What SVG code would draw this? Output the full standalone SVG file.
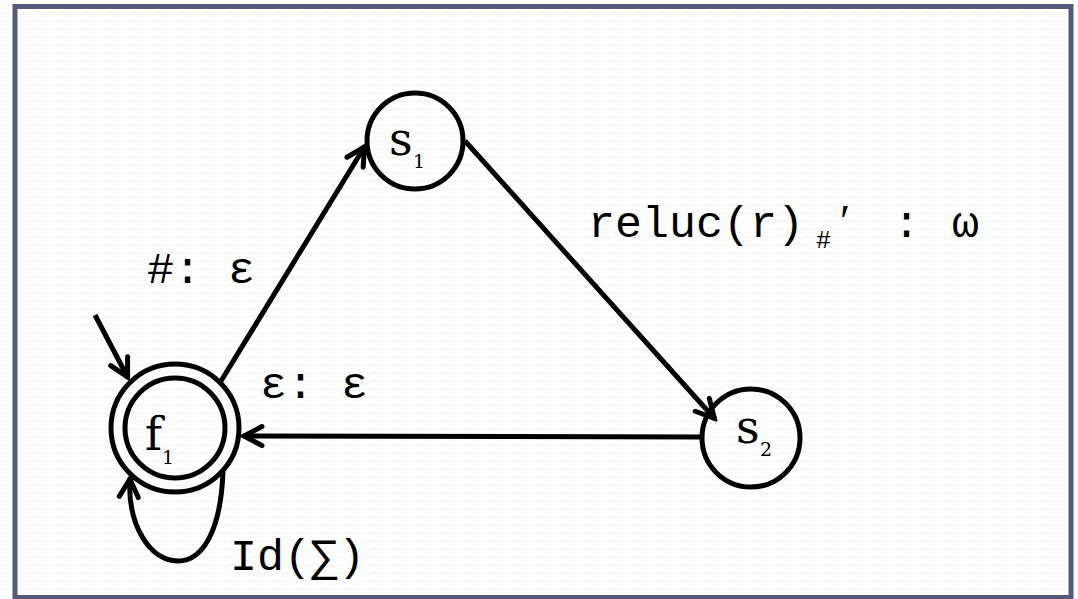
<svg xmlns="http://www.w3.org/2000/svg" width="1078" height="599" viewBox="0 0 1078 599">
  <defs>
    <pattern id="bg" width="12" height="8" patternUnits="userSpaceOnUse">
      <rect width="12" height="8" fill="#ffffff"/>
      <path d="M0,5 Q3,2 6,5 T12,5" fill="none" stroke="#f1f1f1" stroke-width="1"/>
    </pattern>
    <marker id="arr" markerUnits="userSpaceOnUse" viewBox="-24 -13 28 26" markerWidth="28" markerHeight="26" refX="1" refY="0" orient="auto">
      <path d="M-18,-9.5 L0,0 L-18,9.5" fill="none" stroke="#000" stroke-width="5" stroke-linecap="round" stroke-linejoin="miter"/>
    </marker>
    <style>
      .node { fill: none; stroke: #000; stroke-width: 5; }
      .edge { fill: none; stroke: #000; stroke-width: 5; marker-end: url(#arr); }
      .mono { font-family: "Liberation Mono", "DejaVu Sans Mono", monospace; font-size: 45px; fill: #000; }
      .lbl { font-family: "DejaVu Serif", "Liberation Serif", serif; font-size: 46px; fill: #000; }
      .sub { font-family: "DejaVu Serif", "Liberation Serif", serif; font-size: 19px; fill: #000; }
    </style>
  </defs>
  <rect x="0" y="0" width="1078" height="599" fill="url(#bg)"/>
  <rect x="15" y="6.5" width="1056" height="591" fill="none" stroke="#535a7c" stroke-width="5"/>

  <g id="connectors">
    <line class="edge" x1="221" y1="381" x2="365" y2="146"/>
    <line class="edge" x1="465" y1="141" x2="715" y2="419"/>
    <line class="edge" x1="702" y1="437" x2="243" y2="436"/>
    <line class="edge" x1="95" y1="315" x2="128" y2="378"/>
    <path class="edge" d="M223,471 C221,530 203,561 178,561 C150,561 127,525 130,478"/>
  </g>

  <g id="node-s1">
    <circle class="node" cx="415" cy="141" r="48"/>
    <text class="lbl" x="389" y="155">s</text>
    <text class="sub" x="413" y="168">1</text>
  </g>
  <g id="node-s2">
    <circle class="node" cx="751" cy="438" r="49"/>
    <text class="lbl" x="736" y="443">s</text>
    <text class="sub" x="760" y="456">2</text>
  </g>
  <g id="node-f1">
    <circle class="node" cx="175" cy="428" r="64"/>
    <circle class="node" cx="175" cy="428" r="50"/>
    <text class="lbl" x="145" y="450">f</text>
    <text class="sub" x="162" y="464">1</text>
  </g>

  <g id="labels">
    <text class="mono" x="147" y="283">#: ε</text>
    <text class="mono" x="260" y="398">ε: ε</text>
    <text class="mono" x="588" y="237">reluc(r)</text>
    <text class="mono" x="816" y="248" style="font-size:25px">#</text>
    <text x="840" y="237" style="font-family:'Liberation Serif','DejaVu Serif',serif;font-size:46px">′</text>
    <text class="mono" x="893" y="237">:</text>
    <text class="mono" x="952" y="237">ω</text>
    <text class="mono" x="230" y="570">Id(∑)</text>
  </g>
</svg>
